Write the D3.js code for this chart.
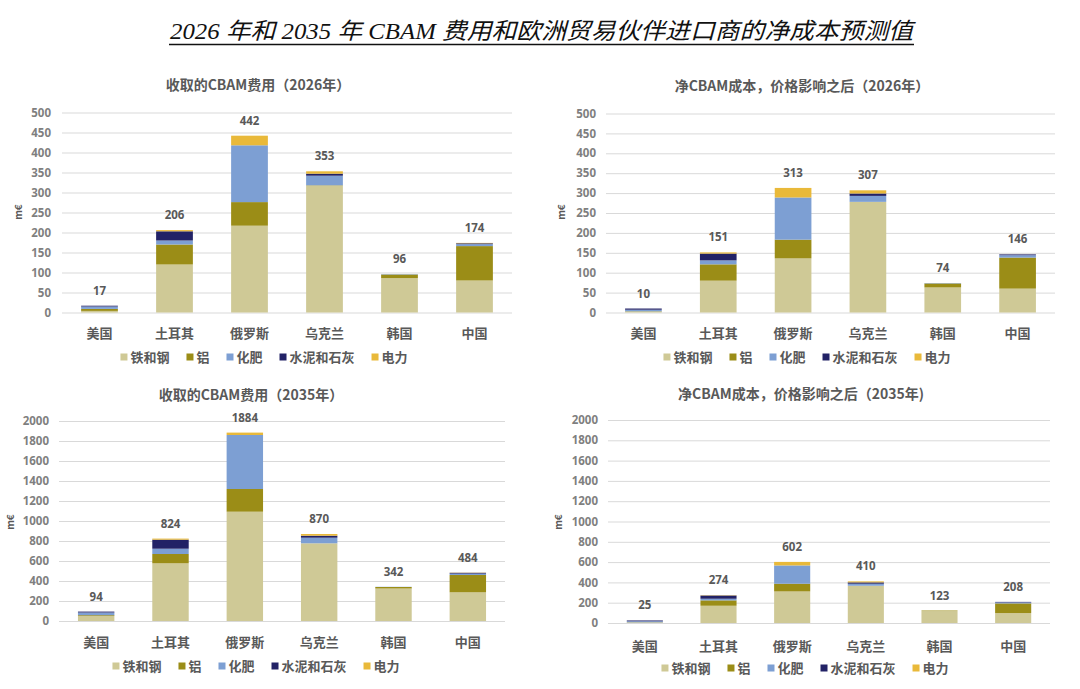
<!DOCTYPE html>
<html><head><meta charset="utf-8">
<script src="https://cdn.jsdelivr.net/npm/d3@7/dist/d3.min.js"></script>
<style>
body{margin:0;background:#fff;}
svg{display:block;font-family:"Noto Sans CJK SC","Noto Sans",sans-serif;}
</style></head>
<body><svg id="c" width="1080" height="689"></svg>
<script>
const categories = ["美国","土耳其","俄罗斯","乌克兰","韩国","中国"];
const seriesNames = ["铁和钢","铝","化肥","水泥和石灰","电力"];
const seriesColors = ["#cfc996","#9b8d17","#7d9fd3","#222266","#e9b93a"];

// order of rows: 铁和钢, 铝, 化肥, 水泥和石灰, 电力
const fees2026 = [
  [4,120,217,317,86,80],
  [5,50,59,1,9,86],
  [6,10,142,24,1,5],
  [2,23,0,5,0,2],
  [0,3,24,6,0,1]
];
const fees2026Totals = [17,206,442,353,96,174];

const net2026 = [
  [2,80,136,278,63,60],
  [1,41,47,0,10,78],
  [4,10,106,15,1,6],
  [3,17,0,6,0,2],
  [0,3,24,8,0,0]
];
const net2026Totals = [10,151,313,307,74,146];

const fees2035 = [
  [50,577,1093,777,325,287],
  [8,93,227,0,15,173],
  [27,53,540,56,2,14],
  [9,90,0,20,0,8],
  [0,11,24,17,0,2]
];
const fees2035Totals = [94,824,1884,870,342,484];

const net2035 = [
  [5,170,311,367,118,98],
  [2,53,76,0,5,95],
  [10,16,180,20,0,10],
  [8,32,0,13,0,5],
  [0,3,35,10,0,0]
];
const net2035Totals = [25,274,602,410,123,208];

const mainTitle = "2026 年和 2035 年 CBAM 费用和欧洲贸易伙伴进口商的净成本预测值";
const panelTitles = ["收取的CBAM费用（2026年）","净CBAM成本，价格影响之后（2026年）","收取的CBAM费用（2035年）","净CBAM成本，价格影响之后（2035年)"];
const yTicks2026 = [0,50,100,150,200,250,300,350,400,450,500];
const yTicks2035 = [0,200,400,600,800,1000,1200,1400,1600,1800,2000];
const unitLabel = "m€";

const svg = d3.select("#c");
svg.append("rect").attr("width",1080).attr("height",689).attr("fill","#fff");

// main title
svg.append("text")
  .attr("x",170).attr("y",39)
  .attr("font-family","'Liberation Serif','Noto Sans CJK SC',serif")
  .attr("font-style","italic")
  .attr("font-size",23)
  .attr("fill","#111")
  .attr("textLength",743).attr("lengthAdjust","spacingAndGlyphs")
  .text(mainTitle);
svg.append("line").attr("x1",169).attr("x2",914).attr("y1",44.5).attr("y2",44.5)
  .attr("stroke","#111").attr("stroke-width",1.5);

const panels = [
  {data:fees2026,totals:fees2026Totals,ticks:yTicks2026,max:500,title:panelTitles[0],
   x0:62,x1:512,yTop:112.5,yZero:312.5,titleX:258,titleY:90,tickX:51,unitX:22,unitY:212,catY:334,legY:357,legX:264},
  {data:net2026,totals:net2026Totals,ticks:yTicks2026,max:500,title:panelTitles[1],
   x0:606,x1:1055,yTop:113.5,yZero:312.5,titleX:802,titleY:91,tickX:596,unitX:565,unitY:212,catY:334,legY:357,legX:807},
  {data:fees2035,totals:fees2035Totals,ticks:yTicks2035,max:2000,title:panelTitles[2],
   x0:59,x1:505,yTop:421,yZero:621,titleX:251,titleY:400,tickX:49,unitX:14,unitY:522,catY:643,legY:666,legX:256},
  {data:net2035,totals:net2035Totals,ticks:yTicks2035,max:2000,title:panelTitles[3],
   x0:608,x1:1050,yTop:420,yZero:623,titleX:801,titleY:399,tickX:598,unitX:562,unitY:522,catY:647,legY:668,legX:805}
];

panels.forEach(p=>{
  const g = svg.append("g");
  const x = d3.scaleBand().domain(categories).range([p.x0,p.x1]).paddingInner(0.51).paddingOuter(0.255);
  const y = d3.scaleLinear().domain([0,p.max]).range([p.yZero,p.yTop]);

  // title
  g.append("text").attr("x",p.titleX).attr("y",p.titleY).attr("text-anchor","middle")
    .attr("font-size",14).attr("font-weight","bold").attr("fill","#595959").text(p.title);

  // y axis with gridlines
  const ya = g.append("g").attr("transform",`translate(${p.x0},0)`)
    .call(d3.axisLeft(y).tickValues(p.ticks).tickFormat(d3.format("d"))
      .tickSize(-(p.x1-p.x0)).tickPadding(p.x0-p.tickX));
  ya.select(".domain").remove();
  ya.selectAll(".tick line").attr("stroke","#d9d9d9").attr("stroke-width",1);
  ya.selectAll(".tick text").attr("font-size",11.5).attr("font-weight","bold").attr("fill","#7f7f7f")
    .attr("font-family","'Noto Sans','Open Sans',sans-serif");

  // unit label
  g.append("text").attr("transform",`translate(${p.unitX},${p.unitY}) rotate(-90)`)
    .attr("text-anchor","middle").attr("font-size",10).attr("font-weight","bold").attr("fill","#595959")
    .text(unitLabel);

  // stacked bars
  const rows = categories.map((c,i)=>{
    const o={cat:c};
    seriesNames.forEach((s,k)=>o[s]=p.data[k][i]);
    return o;
  });
  const stack = d3.stack().keys(seriesNames)(rows);
  stack.forEach((layer,k)=>{
    g.append("g").attr("fill",seriesColors[k]).selectAll("rect").data(layer).join("rect")
      .attr("x",d=>x(d.data.cat)).attr("width",x.bandwidth())
      .attr("y",d=>y(d[1])).attr("height",d=>Math.max(0,y(d[0])-y(d[1])));
  });

  // total labels
  g.append("g").selectAll("text").data(categories).join("text")
    .attr("x",c=>x(c)+x.bandwidth()/2)
    .attr("y",(c,i)=>y(d3.sum(p.data,r=>r[i]))-11)
    .attr("text-anchor","middle").attr("font-size",11.5).attr("font-weight","bold").attr("fill","#595959")
    .attr("font-family","'Noto Sans','Open Sans',sans-serif")
    .text((c,i)=>p.totals[i]);

  // category labels
  const xa = g.append("g").attr("transform",`translate(0,${p.catY})`)
    .call(d3.axisBottom(x).tickSize(0).tickPadding(0));
  xa.select(".domain").remove();
  xa.selectAll(".tick text").attr("font-size",13).attr("font-weight","bold").attr("fill","#595959")
    .attr("dy","0.32em").attr("font-family","'Noto Sans CJK SC',sans-serif");

  // legend
  const lg = g.append("g");
  let cx = 0;
  seriesNames.forEach((s,k)=>{
    const it = lg.append("g");
    it.append("rect").attr("x",0).attr("y",-3.5).attr("width",7).attr("height",7).attr("fill",seriesColors[k]);
    const t = it.append("text").attr("x",10).attr("y",0).attr("dy","0.35em")
      .attr("font-size",13).attr("font-weight","bold").attr("fill","#595959").text(s);
    const w = 10 + t.node().getComputedTextLength();
    it.attr("transform",`translate(${cx},0)`);
    cx += w + 17;
  });
  const totalW = cx - 17;
  lg.attr("transform",`translate(${p.legX-totalW/2},${p.legY})`);
});
</script></body></html>
